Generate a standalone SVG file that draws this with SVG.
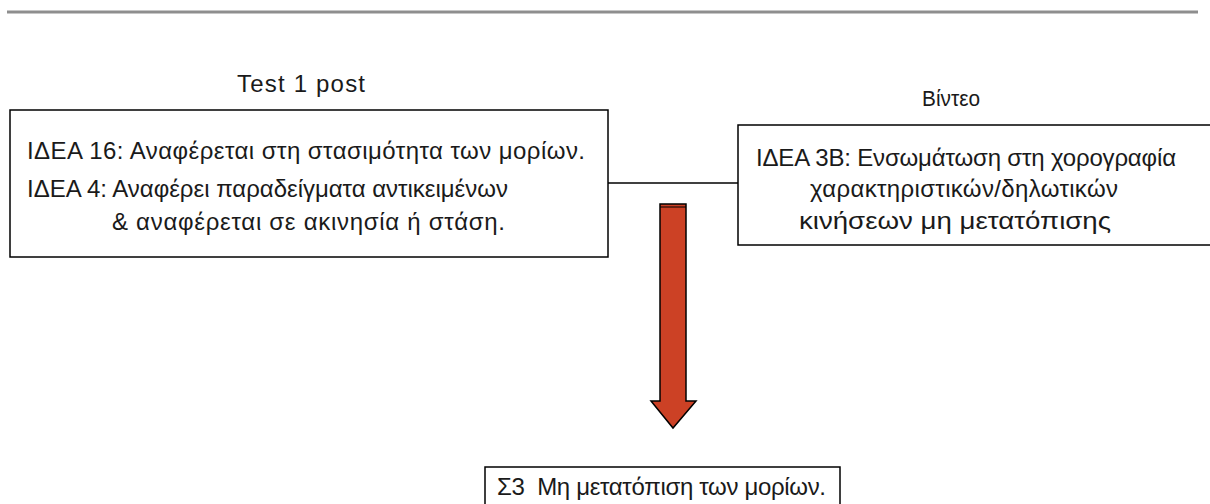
<svg xmlns="http://www.w3.org/2000/svg" width="1210" height="504" viewBox="0 0 1210 504">
  <style>
    .box { fill: #ffffff; stroke: #000000; stroke-width: 1.5; }
    .txt { font-family: "Liberation Sans", Arial, sans-serif; font-size: 24px; fill: #1a1a1a; }
    .small { font-size: 22px; }
    .link { stroke: #000000; stroke-width: 1.5; fill: none; }
  </style>
  <rect width="1210" height="504" fill="#ffffff"/>
  <!-- header rule -->
  <line x1="7" y1="12" x2="1198" y2="12" stroke="#8e8e8e" stroke-width="3"/>

  <g id="titles">
    <text class="txt" x="237" y="92" textLength="128" lengthAdjust="spacing">Test 1 post</text>
    <text class="txt small" x="922" y="106" textLength="58" lengthAdjust="spacingAndGlyphs">Βίντεο</text>
  </g>

  <g id="connectors">
    <line class="link" x1="608" y1="183" x2="738" y2="183"/>
    <!-- block arrow down to the conclusion -->
    <path d="M660,204 H686 V401 H696 L673,428 L651,401 H660 Z" fill="#cc4125" stroke="#000000" stroke-width="1.5"/>
    <line x1="660" y1="207" x2="686" y2="207" stroke="#000000" stroke-width="1"/>
  </g>

  <g id="test1">
    <rect class="box" x="10" y="110" width="598" height="147"/>
    <text class="txt" x="27" y="159" textLength="558" lengthAdjust="spacing">ΙΔΕΑ 16: Αναφέρεται στη στασιμότητα των μορίων.</text>
    <text class="txt" x="27" y="197" textLength="481" lengthAdjust="spacing">ΙΔΕΑ 4: Αναφέρει παραδείγματα αντικειμένων</text>
    <text class="txt" x="112" y="230" textLength="393" lengthAdjust="spacing">&amp; αναφέρεται σε ακινησία ή στάση.</text>
  </g>

  <g id="video">
    <rect class="box" x="738" y="125" width="490" height="120"/>
    <text class="txt" x="756" y="166" textLength="420" lengthAdjust="spacing">ΙΔΕΑ 3Β: Ενσωμάτωση στη χορογραφία</text>
    <text class="txt" x="810" y="197" textLength="308" lengthAdjust="spacing">χαρακτηριστικών/δηλωτικών</text>
    <text class="txt" x="799" y="229" textLength="312" lengthAdjust="spacingAndGlyphs">κινήσεων μη μετατόπισης</text>
  </g>

  <g id="conclusion">
    <rect class="box" x="485" y="467" width="355" height="60"/>
    <text class="txt" x="497" y="495" xml:space="preserve" textLength="329" lengthAdjust="spacing">Σ3  Μη μετατόπιση των μορίων.</text>
  </g>
</svg>
